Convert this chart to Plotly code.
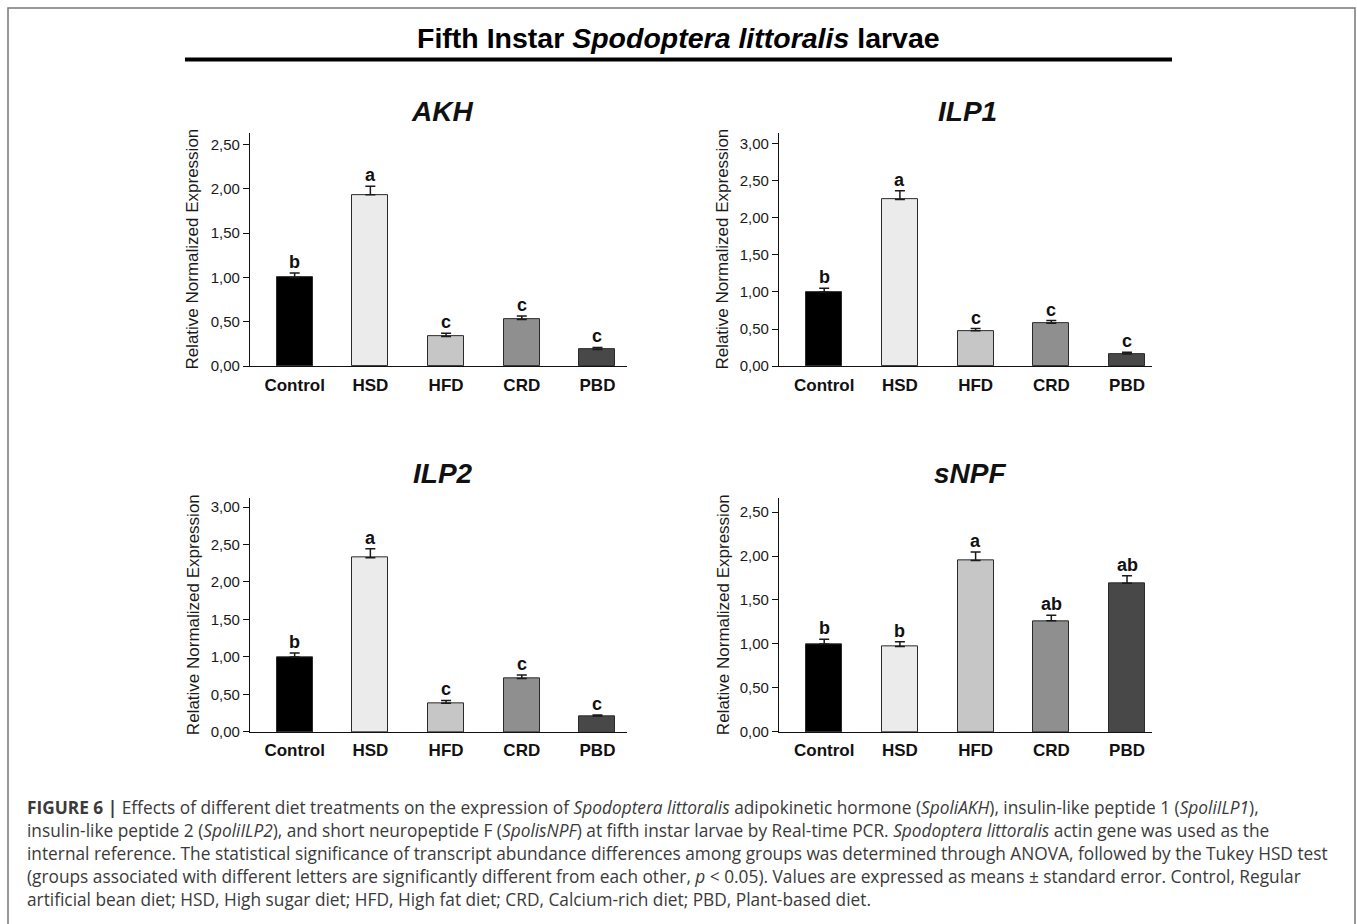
import plotly.graph_objects as go

# ---------------- data ----------------
categories = ["Control", "HSD", "HFD", "CRD", "PBD"]
bar_colors = ["#000000", "#ebebeb", "#c6c6c6", "#8f8f8f", "#484848"]

akh_mean = [1.00, 1.935, 0.335, 0.526, 0.186]
akh_err = [0.05, 0.095, 0.035, 0.04, 0.024]
akh_letters = ["b", "a", "c", "c", "c"]

ilp1_mean = [1.00, 2.246, 0.476, 0.579, 0.164]
ilp1_err = [0.05, 0.12, 0.03, 0.035, 0.022]
ilp1_letters = ["b", "a", "c", "c", "c"]

ilp2_mean = [1.00, 2.323, 0.384, 0.714, 0.212]
ilp2_err = [0.053, 0.12, 0.035, 0.045, 0.015]
ilp2_letters = ["b", "a", "c", "c", "c"]

snpf_mean = [1.00, 0.97, 1.95, 1.263, 1.691]
snpf_err = [0.055, 0.055, 0.095, 0.063, 0.085]
snpf_letters = ["b", "b", "a", "ab", "ab"]

ticks_250 = [0, 0.5, 1.0, 1.5, 2.0, 2.5]
ticks_300 = [0, 0.5, 1.0, 1.5, 2.0, 2.5, 3.0]

W, H = 1357, 924
FONT = "Liberation Sans, Arial, sans-serif"
CAP_FONT = "Open Sans, Liberation Sans, sans-serif"


def px(x):
    return x / W


def py(y):
    return 1 - y / H


# layout config per panel (positions in pixels)
panels = [
    dict(name="AKH", mean=akh_mean, err=akh_err, letters=akh_letters, ticks=ticks_250,
         ytop=2.629, xpx=(250, 627), ypx=(369.3, 134.3), xr=(-0.59, 4.39),
         title_xy=(442, 112), ylab_x=193),
    dict(name="ILP1", mean=ilp1_mean, err=ilp1_err, letters=ilp1_letters, ticks=ticks_300,
         ytop=3.142, xpx=(779, 1152), ypx=(369.3, 134.3), xr=(-0.597, 4.33),
         title_xy=(967, 112), ylab_x=723),
    dict(name="ILP2", mean=ilp2_mean, err=ilp2_err, letters=ilp2_letters, ticks=ticks_300,
         ytop=3.116, xpx=(250, 627), ypx=(738.3, 502.7), xr=(-0.59, 4.39),
         title_xy=(443, 478), ylab_x=193),
    dict(name="sNPF", mean=snpf_mean, err=snpf_err, letters=snpf_letters, ticks=ticks_250,
         ytop=2.656, xpx=(779, 1152), ypx=(738.3, 502.7), xr=(-0.597, 4.33),
         title_xy=(970, 478), ylab_x=723),
]

fig = go.Figure()
annotations = []
shapes = []

for i, p in enumerate(panels):
    n = i + 1
    xa = "x" if n == 1 else f"x{n}"
    ya = "y" if n == 1 else f"y{n}"
    fig.add_trace(go.Bar(
        x=list(range(len(categories))), y=p["mean"],
        marker=dict(color=bar_colors, line=dict(color="#2a2a2a", width=1)),
        width=0.476,
        error_y=dict(type="data", array=p["err"], arrayminus=[0] * len(p["err"]),
                     symmetric=False, color="#1a1a1a", thickness=1.5, width=5),
        xaxis=xa, yaxis=ya, showlegend=False, hoverinfo="skip",
    ))
    xkey = "xaxis" if n == 1 else f"xaxis{n}"
    ykey = "yaxis" if n == 1 else f"yaxis{n}"
    fig.update_layout({
        xkey: dict(domain=[px(p["xpx"][0]), px(p["xpx"][1])], anchor=ya,
                   range=list(p["xr"]), tickmode="array",
                   tickvals=list(range(len(categories))),
                   ticktext=[f"<b>{c}</b>" for c in categories],
                   tickfont=dict(family=FONT, size=17, color="#111111"),
                   ticks="outside", ticklen=3, tickcolor="rgba(0,0,0,0)",
                   showline=True, linecolor="#111111", linewidth=1.3,
                   showgrid=False, zeroline=False, fixedrange=True),
        ykey: dict(domain=[py(p["ypx"][0]), py(p["ypx"][1])], anchor=xa,
                   range=[0, p["ytop"]], tickmode="array", tickvals=p["ticks"],
                   ticktext=[f"{t:.2f}".replace(".", ",") for t in p["ticks"]],
                   tickfont=dict(family=FONT, size=15, color="#1a1a1a"),
                   ticks="outside", ticklen=6, tickwidth=1, tickcolor="#111111",
                   showline=True, linecolor="#111111", linewidth=1.3,
                   showgrid=False, zeroline=False, fixedrange=True),
    })
    # small extension of y axis below x axis
    shapes.append(dict(type="line", xref=f"{xa} domain", yref=ya, x0=0, x1=0,
                       ysizemode="pixel", yanchor=0, y0=0, y1=-6,
                       line=dict(color="#111111", width=1.3)))
    # letters
    for j, (m, e, lt) in enumerate(zip(p["mean"], p["err"], p["letters"])):
        annotations.append(dict(x=j, y=m + e, xref=xa, yref=ya, text=f"<b>{lt}</b>",
                                showarrow=False, yanchor="bottom", xanchor="center",
                                yshift=-1,
                                font=dict(family=FONT, size=18, color="#111111")))
    # panel title
    annotations.append(dict(x=px(p["title_xy"][0]), y=py(p["title_xy"][1]), xref="paper",
                            yref="paper", text=f"<b><i>{p['name']}</i></b>",
                            showarrow=False, xanchor="center", yanchor="middle",
                            font=dict(family=FONT, size=28, color="#111111")))
    # y axis title
    annotations.append(dict(x=px(p["ylab_x"]), y=py((p["ypx"][0] + p["ypx"][1]) / 2),
                            xref="paper", yref="paper",
                            text="Relative Normalized Expression", textangle=-90,
                            showarrow=False, xanchor="center", yanchor="middle",
                            font=dict(family=FONT, size=17, color="#1a1a1a")))

# main title
annotations.append(dict(x=0.5, y=py(38), xref="paper", yref="paper",
                        text="<b>Fifth Instar <i>Spodoptera littoralis</i> larvae</b>",
                        showarrow=False, xanchor="center", yanchor="middle",
                        font=dict(family=FONT, size=28.5, color="#000000")))
shapes.append(dict(type="line", xref="paper", yref="paper", x0=px(185), x1=px(1172),
                   y0=py(60), y1=py(60), line=dict(color="#000000", width=4)))
# outer frame
shapes.append(dict(type="rect", xref="paper", yref="paper", x0=px(8), x1=px(1355),
                   y0=py(960), y1=py(8), line=dict(color="#777777", width=1.5)))

caption_lines = [
    "<b>FIGURE 6 |</b> Effects of different diet treatments on the expression of <i>Spodoptera littoralis</i> adipokinetic hormone (<i>SpoliAKH</i>), insulin-like peptide 1 (<i>SpoliILP1</i>),",
    "insulin-like peptide 2 (<i>SpoliILP2</i>), and short neuropeptide F (<i>SpolisNPF</i>) at fifth instar larvae by Real-time PCR. <i>Spodoptera littoralis</i> actin gene was used as the",
    "internal reference. The statistical significance of transcript abundance differences among groups was determined through ANOVA, followed by the Tukey HSD test",
    "(groups associated with different letters are significantly different from each other, <i>p</i> &lt; 0.05). Values are expressed as means ± standard error. Control, Regular",
    "artificial bean diet; HSD, High sugar diet; HFD, High fat diet; CRD, Calcium-rich diet; PBD, Plant-based diet.",
]
for k, line in enumerate(caption_lines):
    annotations.append(dict(x=px(25), y=py(815 + 23 * k), xref="paper", yref="paper",
                            text=line, showarrow=False, xanchor="left", yanchor="middle",
                            font=dict(family=CAP_FONT, size=17.3, color="#3a3a3a")))

fig.update_layout(
    width=W, height=H, margin=dict(l=0, r=0, t=0, b=0),
    paper_bgcolor="white", plot_bgcolor="white",
    annotations=annotations, shapes=shapes, bargap=0,
)

fig.write_html("out.html")
